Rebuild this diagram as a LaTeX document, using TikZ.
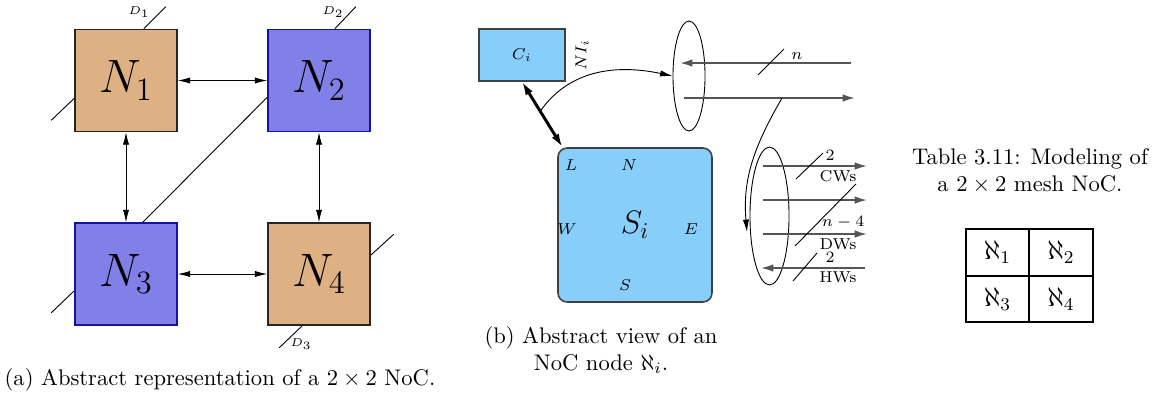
\documentclass[tikz,border=0pt]{standalone}
\usepackage{amsmath, amssymb}
\usetikzlibrary{shapes.geometric, arrows.meta}
\definecolor{tiletan}{RGB}{222,177,132}
\definecolor{tileblue}{RGB}{128,128,232}
\definecolor{tileblueedge}{RGB}{20,20,160}
\definecolor{routerblue}{RGB}{135,206,250}
\definecolor{wiregray}{RGB}{85,85,85}

\begin{document}
\begin{tikzpicture}[x=0.443pt, y=-0.443pt, >={Latex[length=5.5pt, width=2.8pt]},
  every node/.style={inner sep=1pt},
  tile/.style={draw, line width=0.7pt, minimum size=45.2pt, inner sep=0pt, font=\huge},
  tanTile/.style={tile, fill=tiletan, draw=black!85},
  blueTile/.style={tile, fill=tileblue, draw=tileblueedge},
  wire/.style={draw=wiregray, line width=0.8pt, >={Latex[length=5.5pt, width=3.4pt]}},
  tag/.style={font=\tiny}]
  \useasboundingbox (0,0) rectangle (1159,400);

  % (a) 2x2 mesh
  \node[tanTile]  (N1) at (126,80.5)  {$N_1$};
  \node[blueTile] (N2) at (319,80.5)  {$N_2$};
  \node[blueTile] (N3) at (126,274)   {$N_3$};
  \node[tanTile]  (N4) at (319,274)   {$N_4$};
  \draw[<->] (N1) -- (N2);
  \draw[<->] (N3) -- (N4);
  \draw[<->] (N1) -- (N3);
  \draw[<->] (N2) -- (N4);
  \draw (N3.72) -- (N2.198);
  \draw (N1.71) -- ++(22,-22);
  \draw (N1.199) -- ++(-23,22);
  \draw (N2.73) -- ++(21,-22);
  \draw (N3.198) -- ++(-23,22);
  \draw (N4.20) -- ++(23,-21);
  \draw (N4.252) -- ++(-23,22);
  \node[tag] (d1) at (139,12) {$D_1$};
  \node[tag] (d2) at (333,12) {$D_2$};
  \node[tag] (d3) at (301,344) {$D_3$};
  \node (capA) at (220,380) {(a) Abstract representation of a $2\times 2$ NoC.};

  % (b) one NoC node
  \node[draw=black!75, fill=routerblue, line width=0.7pt, minimum width=38.1pt, minimum height=23pt,
    font=\scriptsize] (Ci) at (522,55) {$C_i$};
  \node[rotate=90, font=\scriptsize] (NIi) at (582,55) {$NI_i$};
  \node[draw=black!75, fill=routerblue, line width=0.7pt, rounded corners=4pt,
    minimum size=68.2pt, font=\Large] (Si) at (635,225) {$S_i$};
  \node[font=\scriptsize] (pL) at (571,165) {$L$};
  \node[font=\scriptsize] (pN) at (629,165) {$N$};
  \node[font=\scriptsize] (pW) at (567,229) {$W$};
  \node[font=\scriptsize] (pE) at (691,229) {$E$};
  \node[font=\scriptsize] (pS) at (625,285) {$S$};
  \draw[<->, line width=1.3pt, >={Latex[length=6pt, width=3.6pt]}] (Ci.south) -- coordinate[pos=0.45] (tap) (Si.133);

  \node[draw, ellipse, minimum width=14.2pt, minimum height=48.7pt, inner sep=0pt] (ringNI) at (689,76) {};
  \draw[->] (tap) to[out=55, in=168] (ringNI.west);
  \coordinate (inS) at (851,63);
  \coordinate (inE) at (680,63);
  \coordinate (outS) at (684,98);
  \coordinate (outE) at (855,98);
  \coordinate (split) at (782,98);
  \draw[wire, ->] (inS) -- (inE);
  \draw[wire, ->] (outS) -- (outE);
  \draw (758,75) -- (784,49);
  \node[font=\scriptsize] (bn) at (797,56) {$n$};

  \node[draw, ellipse, minimum width=17.3pt, minimum height=61.1pt, inner sep=0pt] (ringSW) at (769.5,216) {};
  \draw[->] (split) to[out=240, in=95] (747,232);

  \coordinate (c1S) at (763,166);  \coordinate (c1E) at (867,166);
  \coordinate (c2S) at (763,200);  \coordinate (c2E) at (867,200);
  \coordinate (c3S) at (763,234);  \coordinate (c3E) at (867,234);
  \coordinate (h1S) at (865,268);  \coordinate (h1E) at (761,268);
  \draw[wire, ->] (c1S) -- (c1E);
  \draw[wire, ->] (c2S) -- (c2E);
  \draw[wire, ->] (c3S) -- (c3E);
  \draw[wire, ->] (h1S) -- (h1E);
  \draw (796,179) -- (823,153);
  \draw (795,246) -- (856,184);
  \draw (793,281) -- (817,253);
  \node[font=\scriptsize] (cw2) at (830,155) {$2$};
  \node[font=\scriptsize] (cw)  at (838,176) {CWs};
  \node[font=\scriptsize] (dwn) at (843,222) {$n-4$};
  \node[font=\scriptsize] (dw)  at (838,244) {DWs};
  \node[font=\scriptsize] (hw2) at (830,257) {$2$};
  \node[font=\scriptsize] (hw)  at (838,277) {HWs};
  \node[align=center] (capB) at (601,350) {(b) Abstract view of an\\NoC node $\aleph_i$.};

  % table
  \node[align=center] (capT) at (1030,171) {Table 3.11: Modeling of\\a $2\times 2$ mesh NoC.};
  \draw[line width=0.6pt] (966,229) rectangle (1093,322);
  \draw[line width=0.6pt] (1029,229) -- (1029,322);
  \draw[line width=0.6pt] (966,276) -- (1093,276);
  \node[font=\large] (a1) at (997.5,252.5) {$\aleph_1$};
  \node[font=\large] (a2) at (1061,252.5) {$\aleph_2$};
  \node[font=\large] (a3) at (997.5,299) {$\aleph_3$};
  \node[font=\large] (a4) at (1061,299) {$\aleph_4$};
\end{tikzpicture}
\end{document}
